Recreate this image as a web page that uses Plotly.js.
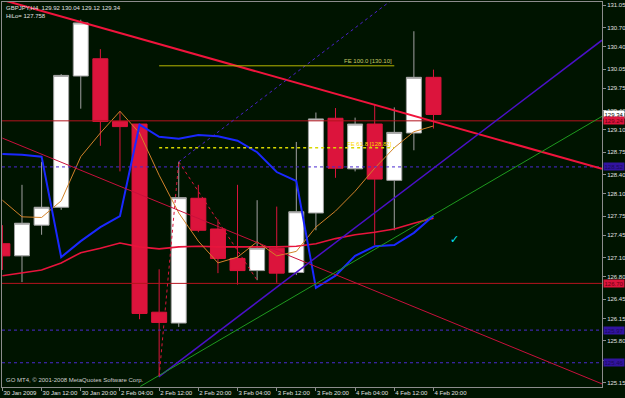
<!DOCTYPE html>
<html><head><meta charset="utf-8">
<script src="https://cdn.plot.ly/plotly-3.0.1.min.js"></script>
<style>html,body{margin:0;padding:0;background:#001400;}#chart{width:625px;height:398px;}</style>
</head><body><div id="chart"></div>
<script>
// ---- data ----
const symbol = 'GBPJPY,H4';
const times = ['30 Jan 04:00','30 Jan 08:00','30 Jan 12:00','30 Jan 16:00','30 Jan 20:00',
  '2 Feb 00:00','2 Feb 04:00','2 Feb 08:00','2 Feb 12:00','2 Feb 16:00','2 Feb 20:00',
  '3 Feb 00:00','3 Feb 04:00','3 Feb 08:00','3 Feb 12:00','3 Feb 16:00','3 Feb 20:00',
  '4 Feb 00:00','4 Feb 04:00','4 Feb 08:00','4 Feb 12:00','4 Feb 16:00','4 Feb 20:00'];
const open  = [127.32,127.13,127.61,127.89,129.94,130.21,129.23,129.19,126.25,126.08,128.03,127.55,127.09,126.90,127.25,126.87,127.80,129.28,128.49,129.19,128.31,129.05,129.92];
const high  = [127.61,128.24,128.60,129.97,130.82,130.36,129.39,129.19,126.92,128.60,128.24,127.70,128.24,128.00,127.90,128.91,129.37,129.44,129.29,129.49,129.45,130.64,130.04];
const low   = [126.91,126.72,127.46,127.85,129.43,128.85,128.45,126.14,125.25,126.02,127.50,126.86,126.68,126.75,126.71,126.83,127.53,128.35,128.45,127.30,127.53,128.78,129.12];
const close = [127.13,127.64,127.89,129.95,130.77,129.23,129.15,126.23,126.09,128.04,127.53,127.09,126.90,127.25,126.86,127.82,129.27,128.50,129.19,128.33,129.06,129.92,129.34];
const hilo   = [128.72,128.71,128.68,127.11,127.36,127.58,127.75,129.18,128.99,128.96,129.02,129.00,128.93,128.75,128.44,128.30,126.63,126.82,127.13,127.28,127.30,127.49,127.758];
const maSlow = [126.82,126.86,126.91,127.02,127.18,127.25,127.33,127.27,127.24,127.27,127.28,127.27,127.27,127.26,127.27,127.28,127.32,127.40,127.46,127.50,127.55,127.64,127.72];
const maFast = [128.00,127.74,127.73,127.99,128.68,129.05,129.39,129.05,128.39,127.80,127.36,127.02,127.11,127.35,127.13,127.20,127.58,127.83,128.14,128.50,128.82,129.07,129.16];
const yTicks = [131.05,130.70,130.40,130.05,129.75,129.40,129.10,128.75,128.40,128.10,127.75,127.45,127.10,126.80,126.45,126.15,125.80,125.50,125.15];
const xTickIdx  = [0,2,4,6,8,10,12,14,16,18,20,22];
const xTickText = ['30 Jan 2009','30 Jan 12:00','30 Jan 20:00','2 Feb 04:00','2 Feb 12:00','2 Feb 20:00',
  '3 Feb 04:00','3 Feb 12:00','3 Feb 20:00','4 Feb 04:00','4 Feb 12:00','4 Feb 20:00'];
const redLevels  = [129.24, 126.70];
const blueLevels = [128.52, 125.97, 125.46];
const bidPrice = 129.34;
// trend lines: [index0, price0, index1, price1]
const lineResist  = [0, 131.13, 30.6, 128.49];
const lineFalling = [0, 128.97, 30.6, 125.13];
const lineChannel = [7.98, 125.24, 30.6, 130.50];
const lineGreen   = [7.04, 125.09, 30.6, 129.31];
const feA = 8, feB = 9, feC = 13, feEnd = 20;
const hiloText = 'HiLo= 127.758';
const checkPoint = [23.05, 127.38];

// ---- build ----
const idx = times.map((_, i) => i);
const tr = [];
tr.push({type:'candlestick', x: idx, open, high, low, close, text: times,
  increasing:{fillcolor:'#ffffff', line:{color:'#a0a0a0', width:1}},
  decreasing:{fillcolor:'#dc143c', line:{color:'#dc143c', width:1}},
  whiskerwidth:0, hoverinfo:'skip', showlegend:false});
tr.push({type:'scatter', mode:'lines', x: idx, y: maSlow, line:{color:'#e8143c', width:1.6}, hoverinfo:'skip', showlegend:false});
tr.push({type:'scatter', mode:'lines', x: idx, y: maFast, line:{color:'#d2822a', width:1}, hoverinfo:'skip', showlegend:false});
tr.push({type:'scatter', mode:'lines', x: idx, y: hilo, line:{color:'#1a28ff', width:2}, hoverinfo:'skip', showlegend:false});

const shapes = [];
redLevels.forEach(v => shapes.push({type:'line', xref:'paper', x0:0, x1:1, y0:v, y1:v, line:{color:'#b4141e', width:1}, layer:'above'}));
blueLevels.forEach(v => shapes.push({type:'line', xref:'paper', x0:0, x1:1, y0:v, y1:v, line:{color:'#4a2ad0', width:1, dash:'dot'}, layer:'above'}));
function seg(a, color, width, dash){ shapes.push({type:'line', x0:a[0], y0:a[1], x1:a[2], y1:a[3], line:{color, width, dash: dash||'solid'}, layer:'above'}); }
seg(lineResist, '#f0143c', 2);
seg(lineFalling, '#c8103c', 1);
seg(lineChannel, '#4a10c8', 1.5);
seg(lineGreen, '#1e9a1e', 1);
// parallel dotted channel through B high
const slope = (lineChannel[3]-lineChannel[1])/(lineChannel[2]-lineChannel[0]);
seg([feB, high[feB], 22, high[feB] + slope*(22-feB)], '#4a20c8', 1, 'dot');
// Fibonacci expansion
const A = low[feA], B = high[feB], C = low[feC];
const fe100 = C + (B - A), fe618 = C + 0.618*(B - A);
seg([feA, A, feB, B], '#dc143c', 1, 'dot');
seg([feB, B, feC, C], '#dc143c', 1, 'dot');
seg([feA, fe100, feEnd, fe100], '#b4b400', 1);
seg([feA, fe618, feEnd, fe618], '#d8d800', 1.5, 'dot');

const F = 'Liberation Sans, Arial, sans-serif';
const ann = [];
ann.push({xref:'paper', yref:'paper', x:0, y:1, xanchor:'left', yanchor:'top', xshift:2, yshift:-1,
  text: symbol + '  ' + open[22].toFixed(2) + ' ' + high[22].toFixed(2) + ' ' + low[22].toFixed(2) + ' ' + close[22].toFixed(2),
  showarrow:false, font:{family:F, size:6, color:'#e0e0e0'}});
ann.push({xref:'paper', yref:'paper', x:0, y:1, xanchor:'left', yanchor:'top', xshift:2, yshift:-9,
  text: hiloText, showarrow:false, font:{family:F, size:6, color:'#e0e0e0'}});
ann.push({xref:'paper', yref:'paper', x:0, y:0, xanchor:'left', yanchor:'bottom', xshift:2, yshift:2,
  text:'GO MT4, © 2001-2008 MetaQuotes Software Corp.', showarrow:false, font:{family:F, size:6, color:'#d0d0d0'}});
ann.push({x:feEnd, y:fe100, xanchor:'right', yanchor:'bottom', yshift:0, text:'FE 100.0 [' + fe100.toFixed(2) + ']',
  showarrow:false, font:{family:F, size:6, color:'#c8c864'}});
ann.push({x:feEnd, y:fe618, xanchor:'right', yanchor:'middle', yshift:4, text:'FE 61.8 [' + fe618.toFixed(2) + ']',
  showarrow:false, font:{family:F, size:6, color:'#ffd800'}});
ann.push({x:checkPoint[0], y:checkPoint[1], text:'✓', showarrow:false, font:{family:'DejaVu Sans', size:11, color:'#00e0f0'}});
function priceTag(v, bg, fg){ ann.push({xref:'paper', x:1, y:v, xanchor:'left', yanchor:'middle', xshift:1, text:v.toFixed(2),
  showarrow:false, bgcolor:bg, borderpad:0.5, font:{family:F, size:6, color:fg}}); }
priceTag(bidPrice, '#ffffff', '#000000');
priceTag(redLevels[0], '#dc143c', '#6a0010');
priceTag(redLevels[1], '#dc143c', '#6a0010');
blueLevels.forEach(v => priceTag(v, '#3214a0', '#1a0a5a'));

// tick labels hidden under a price tag are left blank, as in the terminal
const yTickText = yTicks.map(v => blueLevels.concat(redLevels).some(b => Math.abs(b - v) < 0.06) ? '' : v.toFixed(2));

const layout = {
  width:625, height:398, margin:{l:2, r:23, t:2, b:11},
  paper_bgcolor:'#001400', plot_bgcolor:'#001400',
  showlegend:false, hovermode:false, boxgap:0.1, boxgroupgap:0.15,
  xaxis:{type:'linear', range:[-0.02, 30.6], tickvals:xTickIdx, ticktext:xTickText, tickangle:0, showgrid:false, zeroline:false,
    showline:true, mirror:true, linecolor:'#8c8c8c', linewidth:1, ticks:'outside', ticklen:3, tickcolor:'#8c8c8c',
    ticklabelposition:'outside right', ticklabelstandoff:0, tickfont:{family:F, size:6, color:'#e0e0e0'}, rangeslider:{visible:false}, fixedrange:true},
  yaxis:{range:[125.081, 131.097], side:'right', tickvals:yTicks, ticktext:yTickText, showgrid:false, zeroline:false,
    showline:true, mirror:true, linecolor:'#8c8c8c', linewidth:1, ticks:'outside', ticklen:3, tickcolor:'#8c8c8c',
    tickfont:{family:F, size:6, color:'#e0e0e0'}, fixedrange:true},
  shapes, annotations: ann
};
Plotly.newPlot('chart', tr, layout, {staticPlot:true, displayModeBar:false});
</script></body></html>
